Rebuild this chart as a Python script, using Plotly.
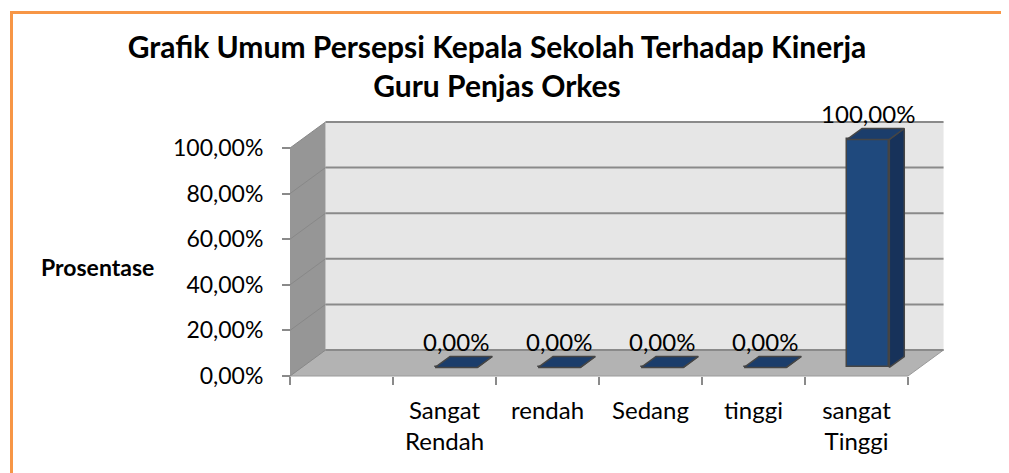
import plotly.graph_objects as go

# ---------------- data ----------------
title_text = "Grafik Umum Persepsi Kepala Sekolah Terhadap Kinerja<br>Guru Penjas Orkes"
y_label = "Prosentase"
categories = ["", "Sangat<br>Rendah", "rendah", "Sedang", "tinggi", "sangat<br>Tinggi"]
values = [None, 0.0, 0.0, 0.0, 0.0, 1.0]
y_ticks = [0.0, 0.2, 0.4, 0.6, 0.8, 1.0]

# ---------------- geometry of the pseudo-3D frame ----------------
OFF = 8                        # page body margin
W, H = 1009 - OFF, 473 - OFF   # figure size that fits the window
X0_PX, SLOT_PX = 290 - OFF, 103    # front-left corner x, width of one category slot
Y0_PX, UNIT_PX = 376 - OFF, 228    # front floor line y, pixels per 100 %
DX, DY = 0.345, 0.114          # depth vector of the wall/floor (data units)
BAR_W = 0.41                   # bar width (slot fraction)
F = 0.33                       # depth fraction where bar front sits
D = 0.42                       # bar depth (fraction of full depth)

n = len(categories)
x_range = [-X0_PX / SLOT_PX, (W - X0_PX) / SLOT_PX]
y_range = [(Y0_PX - H) / UNIT_PX, Y0_PX / UNIT_PX]

FONT = "Lato"
GRID = "#8a8a8a"

shapes = []
# back wall
shapes.append(dict(type="rect", xref="x", yref="y", x0=DX, x1=n + DX, y0=DY, y1=1 + DY,
                   fillcolor="#e6e6e6", line=dict(width=0), layer="below"))
# side wall
shapes.append(dict(type="path", xref="x", yref="y",
                   path=f"M 0,0 L {DX},{DY} L {DX},{1 + DY} L 0,1 Z",
                   fillcolor="#969696", line=dict(width=0), layer="below"))
# floor
shapes.append(dict(type="path", xref="x", yref="y",
                   path=f"M 0,0 L {n},0 L {n + DX},{DY} L {DX},{DY} Z",
                   fillcolor="#b3b3b3", line=dict(color="#9a9a9a", width=1), layer="below"))
# gridlines on back wall and side wall
for t in y_ticks:
    shapes.append(dict(type="line", xref="x", yref="y", x0=DX, x1=n + DX, y0=t + DY, y1=t + DY,
                       line=dict(color=GRID, width=2), layer="below"))
    shapes.append(dict(type="line", xref="x", yref="y", x0=0, x1=DX, y0=t, y1=t + DY,
                       line=dict(color="#888888", width=1), layer="below"))
# orange outer border
shapes.append(dict(type="rect", xref="paper", yref="paper",
                   x0=(11.5 - OFF) / W, x1=(1008 - OFF) / W, y0=-0.2, y1=1 - (12.5 - OFF) / H,
                   line=dict(color="#f79646", width=3), fillcolor="rgba(0,0,0,0)"))

fig = go.Figure()

bx, by, bbase = [], [], []
side_x, side_y, top_x, top_y = [], [], [], []
lab_x, lab_y, lab_v = [], [], []
for i, v in enumerate(values):
    if v is None:
        continue
    cx = i + 0.5 + F * DX
    base = F * DY
    bx.append(cx); by.append(v); bbase.append(base)
    xl, xr = cx - BAR_W / 2, cx + BAR_W / 2
    top = base + v
    ddx, ddy = D * DX, D * DY
    side_x += [xr, xr + ddx, xr + ddx, xr, xr, None]
    side_y += [base, base + ddy, top + ddy, top, base, None]
    top_x += [xl, xr, xr + ddx, xl + ddx, xl, None]
    top_y += [top, top, top + ddy, top + ddy, top, None]
    lab_x.append(cx); lab_y.append(top + ddy); lab_v.append(v)

EDGE = dict(color="#454545", width=1.5)
fig.add_trace(go.Bar(x=bx, y=by, base=bbase, width=BAR_W,
                     marker=dict(color="#1f497d", line=EDGE), hoverinfo="skip"))
fig.add_trace(go.Scatter(x=side_x, y=side_y, mode="lines", fill="toself",
                         fillcolor="#17325a", line=EDGE, hoverinfo="skip"))
fig.add_trace(go.Scatter(x=top_x, y=top_y, mode="lines", fill="toself",
                         fillcolor="#1b3d6b", line=EDGE, hoverinfo="skip"))
fig.add_trace(go.Scatter(x=lab_x, y=lab_y, mode="text", customdata=lab_v,
                         texttemplate="%{customdata:.2%}", textposition="top center",
                         textfont=dict(family=FONT, size=24, color="#000000"),
                         hoverinfo="skip", cliponaxis=False))

fig.add_annotation(xref="paper", yref="paper", x=(97 - OFF) / W, y=1 - (267 - OFF) / H,
                   text=f"<b>{y_label}</b>", showarrow=False,
                   font=dict(family=FONT, size=23, color="#000000"),
                   xanchor="center", yanchor="middle")

fig.update_layout(
    width=W, height=H,
    margin=dict(l=0, r=0, t=0, b=0),
    paper_bgcolor="white", plot_bgcolor="rgba(0,0,0,0)",
    separators=",.",
    showlegend=False,
    bargap=0,
    shapes=shapes,
    title=dict(text=f"<b>{title_text}</b>", x=(497 - OFF) / W, xanchor="center",
               yref="container", y=1 - 50 / H, yanchor="top",
               font=dict(family=FONT, size=30, color="#000000")),
    xaxis=dict(range=x_range, domain=[0, 1], anchor="free", position=(H - Y0_PX) / H,
               tickmode="array", tickvals=[i + 0.5 for i in range(n)], ticktext=categories,
               ticks="", showgrid=False, zeroline=False, showline=False,
               ticklabelstandoff=18,
               tickfont=dict(family=FONT, size=24, color="#000000"),
               minor=dict(tickmode="array", tickvals=list(range(n + 1)), ticks="outside",
                          ticklen=8, tickcolor=GRID, tickwidth=1.5, showgrid=False)),
    yaxis=dict(range=y_range, domain=[0, 1], anchor="free", position=X0_PX / W,
               tickmode="array", tickvals=y_ticks, tickformat=".2%",
               ticks="outside", ticklen=8, tickcolor=GRID, tickwidth=1.5,
               showgrid=False, zeroline=False, showline=False,
               ticklabelstandoff=14,
               tickfont=dict(family=FONT, size=23, color="#000000")),
)

fig.write_html("out.html")
